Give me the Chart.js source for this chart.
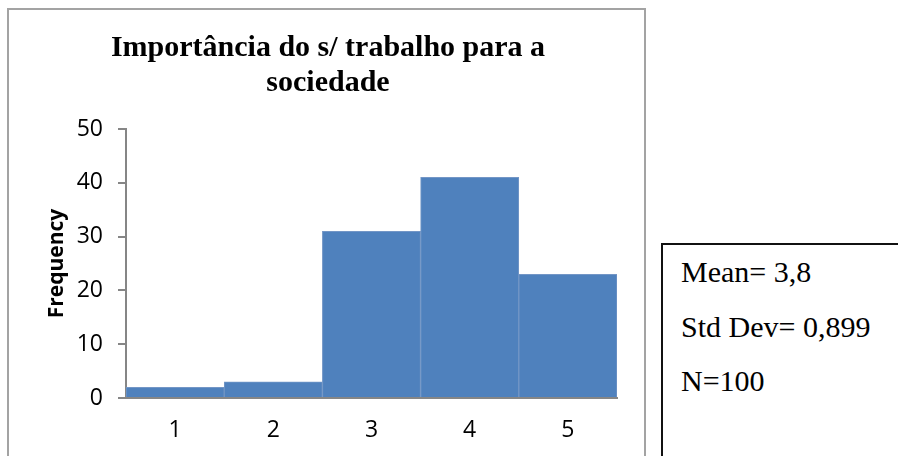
<!DOCTYPE html>
<html>
<head>
<meta charset="utf-8">
<script src="https://cdn.jsdelivr.net/npm/chart.js@4/dist/chart.umd.min.js"></script>
<style>
  html, body { margin: 0; padding: 0; background: #fff; width: 898px; height: 456px; overflow: hidden; }
  .frame { position: absolute; left: 7px; top: 8px; width: 639px; height: 470px; box-sizing: border-box; border: 2px solid #a3a3a3; }
  #chart { position: absolute; left: 9px; top: 9px; }
  .stats { position: absolute; left: 661px; top: 243px; width: 260px; height: 240px; box-sizing: border-box; border: 2px solid #111; font-family: "Liberation Serif", "Times New Roman", serif; font-size: 30px; color: #000; }
  .stats div { position: absolute; left: 18px; white-space: nowrap; }
</style>
</head>
<body>
<div class="frame"></div>
<canvas id="chart" width="634" height="447"></canvas>
<div class="stats" id="stats"></div>
<script>
// histogram data
const categories = ['1', '2', '3', '4', '5'];
const frequencies = [2, 3, 31, 41, 23];
const titleLines = ['Importância do s/ trabalho para a', 'sociedade'];
const yLabel = 'Frequency';
const yMin = 0, yMax = 50, yStep = 10;
const statLines = ['Mean= 3,8', 'Std Dev= 0,899', 'N=100'];

// stats box text
const statTops = [10, 65, 119];
const box = document.getElementById('stats');
statLines.forEach((t, i) => {
  const d = document.createElement('div');
  d.textContent = t;
  d.style.top = statTops[i] + 'px';
  box.appendChild(d);
});

const axisGray = '#868686';
const tickFont = { family: '"Open Sans", sans-serif', size: 23 };

new Chart(document.getElementById('chart').getContext('2d'), {
  type: 'bar',
  data: {
    labels: categories,
    datasets: [{
      data: frequencies,
      backgroundColor: '#4F81BD',
      borderColor: '#7396C6',
      borderWidth: 1,
      barPercentage: 1,
      categoryPercentage: 1
    }]
  },
  options: {
    responsive: false,
    animation: false,
    layout: { padding: { left: 30, right: 26, top: 10, bottom: 12 } },
    plugins: {
      legend: { display: false },
      tooltip: { enabled: false },
      title: {
        display: true,
        text: titleLines,
        color: '#000',
        font: { family: '"Liberation Serif", "Times New Roman", serif', size: 30, weight: 'bold', lineHeight: 1.15 },
        padding: { top: 12, bottom: 29 }
      }
    },
    scales: {
      x: {
        afterFit: (scale) => { scale.height = 46; },
        grid: { display: false, drawTicks: false },
        border: { display: true, color: axisGray, width: 2 },
        ticks: { color: '#000', font: tickFont, padding: 19, maxRotation: 0 }
      },
      y: {
        min: yMin,
        max: yMax,
        afterFit: (scale) => { scale.width = 87; },
        grid: { drawOnChartArea: false, drawTicks: true, tickLength: 8, color: axisGray, lineWidth: 2 },
        border: { display: true, color: axisGray, width: 2 },
        ticks: { stepSize: yStep, color: '#000', font: tickFont, padding: 15 },
        title: {
          display: true,
          text: yLabel,
          color: '#000',
          font: { family: '"Open Sans", sans-serif', size: 21, weight: 'bold' },
          padding: { top: 5, bottom: 0 }
        }
      }
    }
  }
});
</script>
</body>
</html>
